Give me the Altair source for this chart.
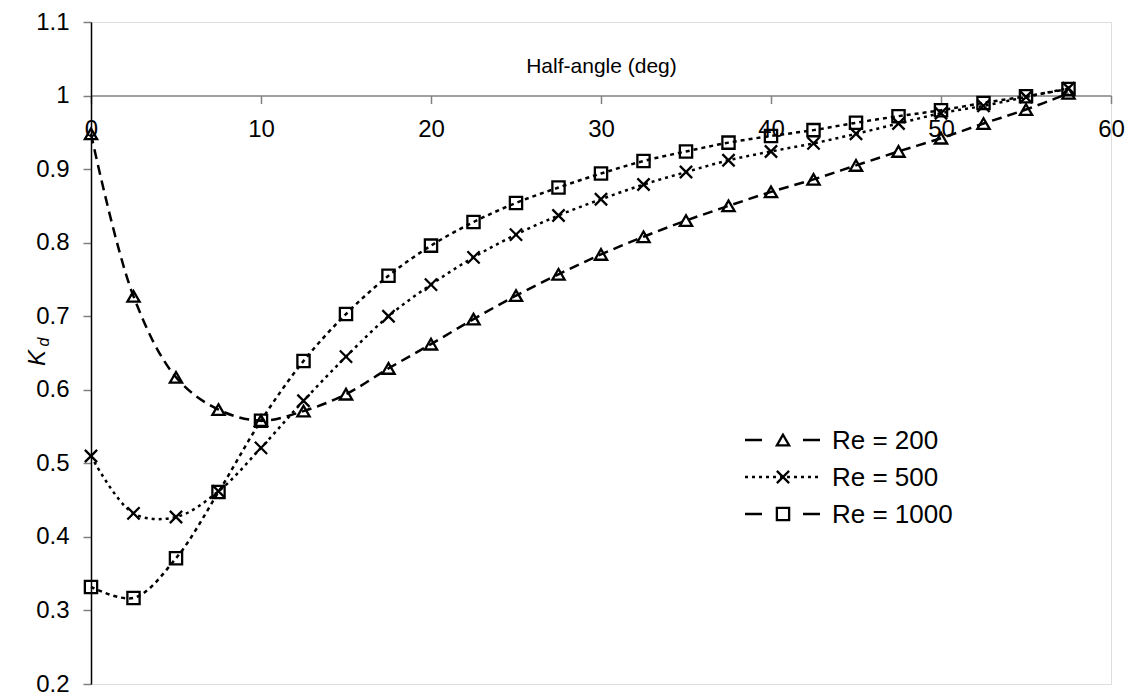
import altair as alt
import pandas as pd

angles = [0, 2.5, 5, 7.5, 10, 12.5, 15, 17.5, 20, 22.5, 25, 27.5, 30, 32.5,
          35, 37.5, 40, 42.5, 45, 47.5, 50, 52.5, 55, 57.5]

kd_re200 = [0.948, 0.727, 0.617, 0.573, 0.558, 0.571, 0.594, 0.629, 0.662, 0.696,
            0.728, 0.757, 0.784, 0.808, 0.830, 0.850, 0.869, 0.886, 0.905, 0.924,
            0.942, 0.962, 0.981, 1.003]
kd_re500 = [0.510, 0.432, 0.427, 0.462, 0.521, 0.585, 0.645, 0.700, 0.743, 0.780,
            0.811, 0.837, 0.859, 0.879, 0.896, 0.912, 0.924, 0.935, 0.948, 0.962,
            0.976, 0.986, 0.998, 1.010]
kd_re1000 = [0.332, 0.317, 0.371, 0.461, 0.558, 0.639, 0.703, 0.755, 0.796, 0.828,
             0.854, 0.875, 0.894, 0.911, 0.924, 0.936, 0.945, 0.953, 0.963, 0.972,
             0.980, 0.990, 0.999, 1.009]

series_names = ["Re = 200", "Re = 500", "Re = 1000"]
x_ticks = [0, 10, 20, 30, 40, 50, 60]
y_ticks = [0.2, 0.3, 0.4, 0.5, 0.6, 0.7, 0.8, 0.9, 1.0, 1.1]

rows = []
for name, vals in zip(series_names, [kd_re200, kd_re500, kd_re1000]):
    for a, v in zip(angles, vals):
        rows.append({"angle": a, "kd": v, "series": name})
df = pd.DataFrame(rows)

W, H = 1020, 662
FONT = "Liberation Sans"
y_at_one = H * (1.1 - 1.0) / 0.9

cross_path = "M-1,-1L1,1M1,-1L-1,1"
shape_range = ["triangle-up", cross_path, "square"]
dash_range = [[10, 6], [3, 4], [4, 4]]

x_enc = alt.X(
    "angle:Q",
    scale=alt.Scale(domain=[0, 60], nice=False, zero=False),
    axis=alt.Axis(
        orient="bottom", offset=-(H - y_at_one), values=x_ticks,
        title="Half-angle (deg)", titleY=-29, titleX=W / 2, titleBaseline="middle",
        titleAlign="center", titleFont=FONT, titleFontSize=21, titleFontWeight="normal",
        titleColor="black",
        labelFont=FONT, labelFontSize=24, labelColor="black", labelPadding=14,
        labelFlush=False, labelOverlap=False,
        domainColor="#808080", domainWidth=1.5, tickColor="#808080", tickSize=8,
        tickWidth=1.5, grid=False,
    ),
)
y_enc = alt.Y(
    "kd:Q",
    scale=alt.Scale(domain=[0.2, 1.1], nice=False, zero=False),
    axis=alt.Axis(
        values=y_ticks, format="~g", title=None,
        labelFont=FONT, labelFontSize=24, labelColor="black", labelPadding=14,
        labelFlush=False, labelOverlap=False,
        domainColor="black", domainWidth=1.5, tickColor="#808080", tickSize=8,
        tickWidth=1.5, grid=False,
    ),
)

base = alt.Chart(df)
lines = base.mark_line(color="black", strokeWidth=2.5, interpolate="catmull-rom").encode(
    x=x_enc, y=y_enc,
    detail="series:N",
    strokeDash=alt.StrokeDash("series:N", scale=alt.Scale(domain=series_names, range=dash_range), legend=None),
)
points = base.mark_point(filled=False, color="black", strokeWidth=2.3, size=150, opacity=1).encode(
    x="angle:Q", y="kd:Q",
    shape=alt.Shape("series:N", scale=alt.Scale(domain=series_names, range=shape_range), legend=None),
)

# manual legend
leg_x1, leg_x2, leg_mark, leg_text = 654, 729, 692, 741
leg_ys = [418, 455, 492]
leg_dashes = [[17, 41], [3, 4], [17, 41]]
legend_layers = []
for name, ly, dash, shp in zip(series_names, leg_ys, leg_dashes, shape_range):
    ldf = pd.DataFrame({"series": [name]})
    lc = alt.Chart(ldf)
    legend_layers.append(lc.mark_rule(color="black", strokeWidth=2.5, strokeDash=dash).encode(
        x=alt.value(leg_x1), x2=alt.value(leg_x2), y=alt.value(ly)))
    legend_layers.append(lc.mark_point(filled=False, color="black", strokeWidth=2.3, size=150,
                                       shape=shp, opacity=1).encode(
        x=alt.value(leg_mark), y=alt.value(ly)))
    legend_layers.append(lc.mark_text(align="left", baseline="middle", font=FONT, fontSize=26,
                                      color="black").encode(
        x=alt.value(leg_text), y=alt.value(ly + 1), text="series:N"))

# y-axis title K_d
tdf = pd.DataFrame({"t": ["K"], "s": ["d"]})
ytitle_k = alt.Chart(tdf).mark_text(angle=270, font=FONT, fontSize=24, fontStyle="italic",
                                    baseline="middle", align="center", color="black").encode(
    x=alt.value(-53), y=alt.value(336), text="t:N")
ytitle_d = alt.Chart(tdf).mark_text(angle=270, font=FONT, fontSize=16, fontStyle="italic",
                                    baseline="middle", align="center", color="black").encode(
    x=alt.value(-47), y=alt.value(320), text="s:N")

chart = alt.layer(lines, points, *legend_layers, ytitle_k, ytitle_d).properties(
    width=W, height=H,
    autosize=alt.AutoSizeParams(type="none"),
    padding={"left": 83, "top": 14, "right": 15, "bottom": 16},
).configure_view(stroke=None).configure(background="white")

chart.save("out.html", embed_options={"renderer": "svg", "actions": False})
